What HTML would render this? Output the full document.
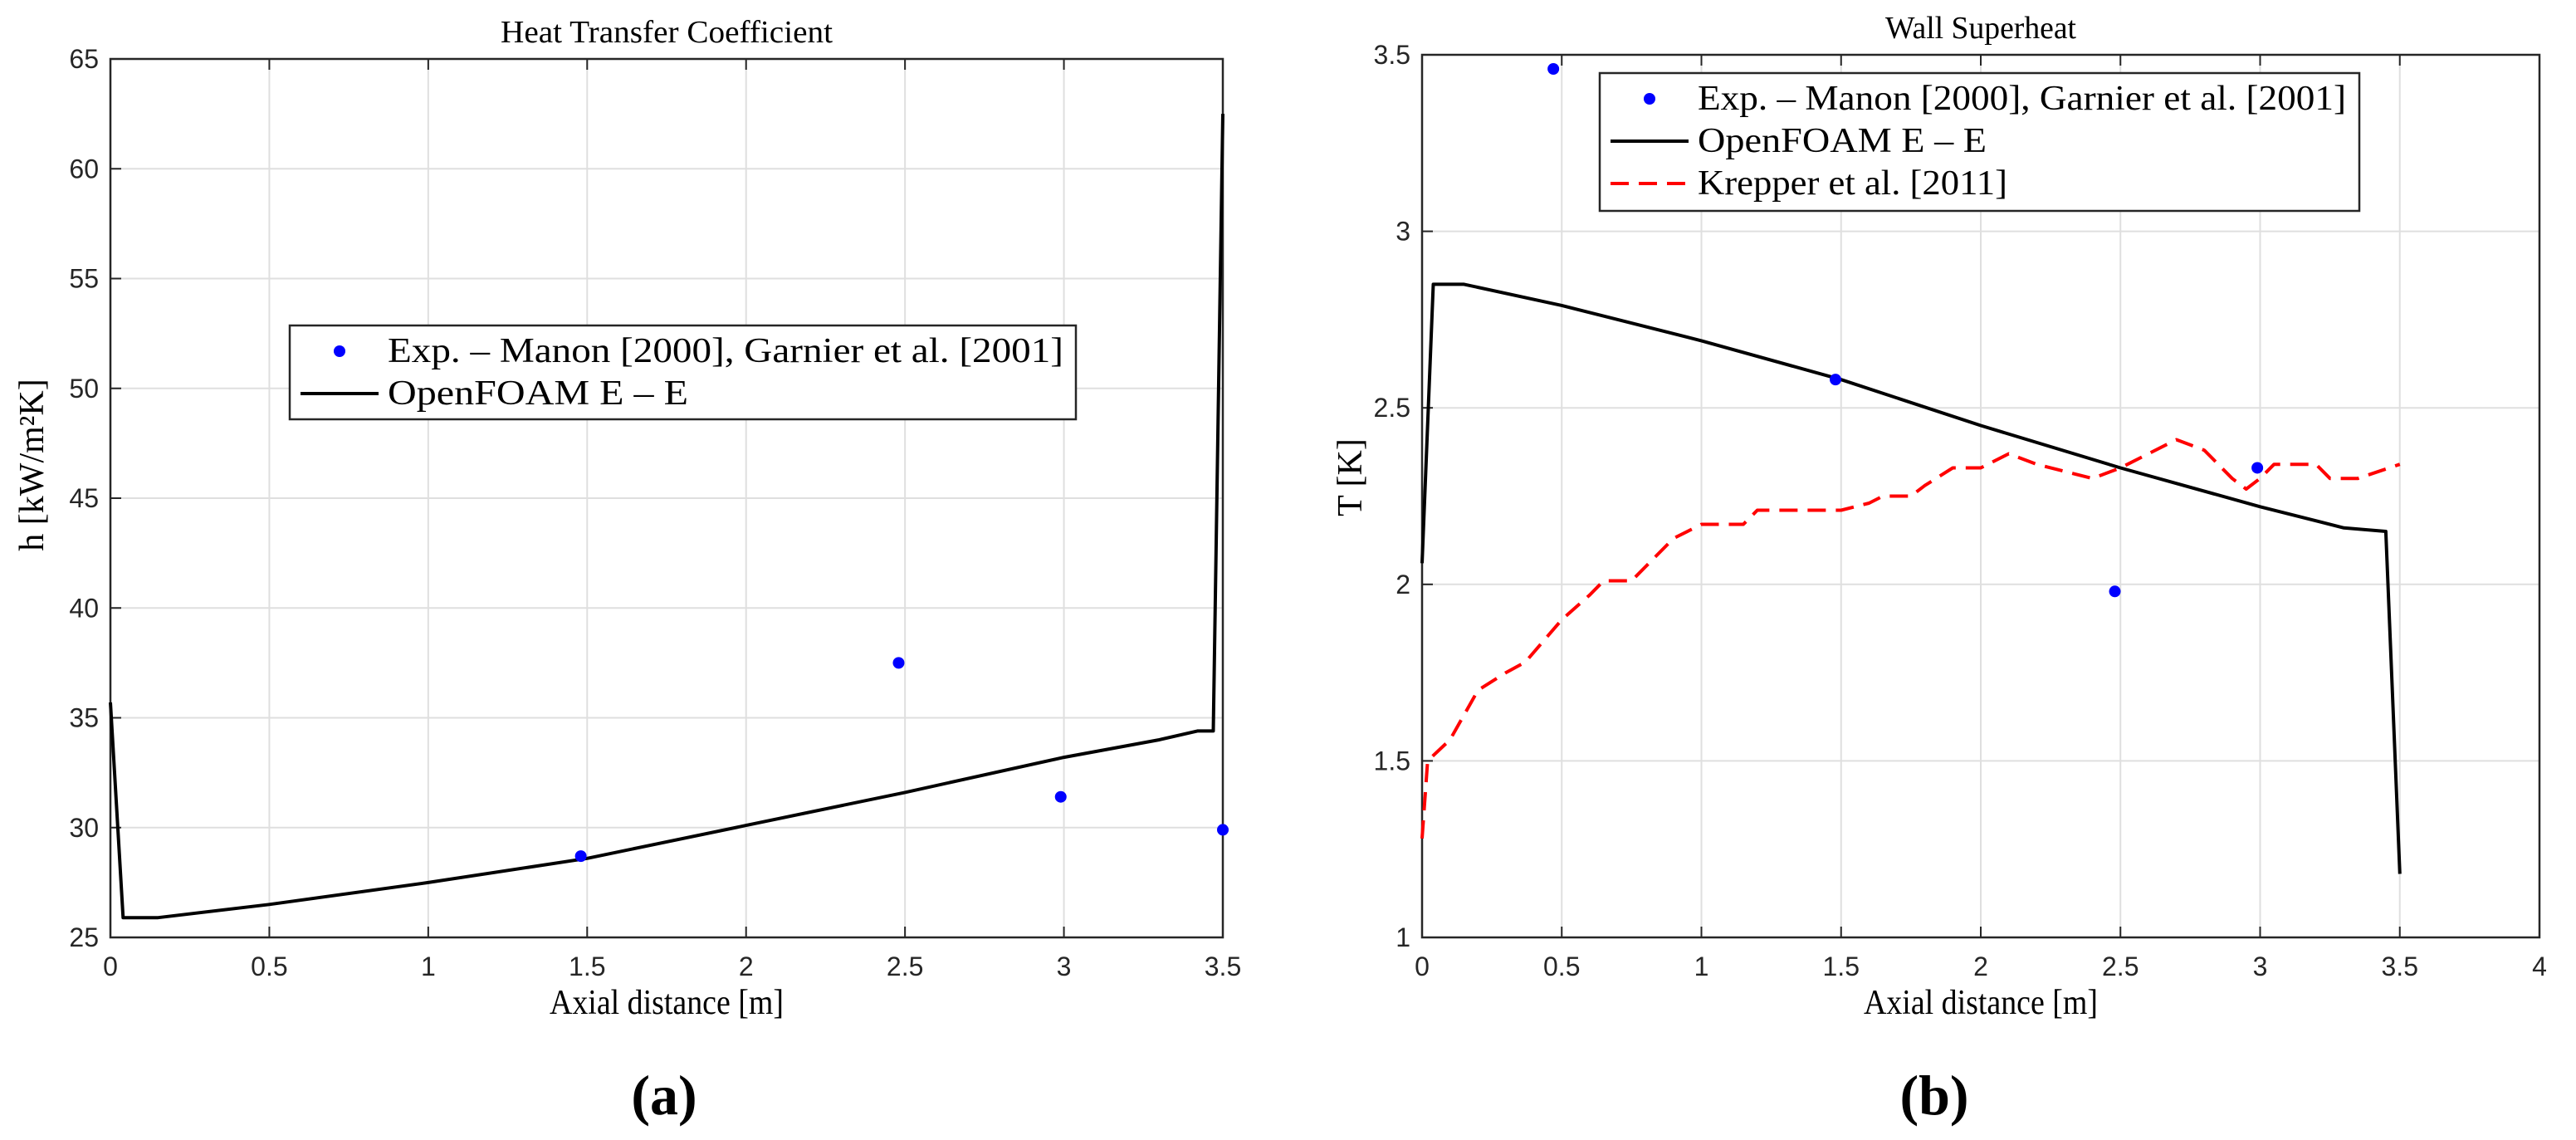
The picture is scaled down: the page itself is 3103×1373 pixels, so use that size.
<!DOCTYPE html>
<html><head><meta charset="utf-8"><style>
html,body{margin:0;padding:0;background:#fff;}
svg{display:block;}
.tick{font-family:"Liberation Sans",sans-serif;font-size:32px;fill:#262626;}
.ser{font-family:"Liberation Serif",serif;fill:#000;}
</style></head><body>
<svg id="fig" width="3103" height="1373" viewBox="0 0 3103 1373" xmlns="http://www.w3.org/2000/svg">
<g id="pa"></g>
<g id="pb"></g>
<text x="800" y="1342" text-anchor="middle" class="ser" font-size="68" font-weight="bold">(a)</text>
<text x="2330" y="1342" text-anchor="middle" class="ser" font-size="68" font-weight="bold">(b)</text>
</svg>
<script>
// Panel (a) data
const aXTicks=[0,0.5,1,1.5,2,2.5,3,3.5];
const aYTicks=[25,30,35,40,45,50,55,60,65];
const aLineX=[0,0.04,0.15,0.5,1.0,1.5,2.0,2.5,3.0,3.3,3.42,3.47,3.5];
const aLineY=[35.7,25.9,25.9,26.5,27.5,28.6,30.1,31.6,33.2,34.0,34.4,34.4,62.5];
const aExpX=[1.48,2.48,2.99,3.5];
const aExpY=[28.7,37.5,31.4,29.9];
// Panel (b) data
const bXTicks=[0,0.5,1,1.5,2,2.5,3,3.5,4];
const bYTicks=[1,1.5,2,2.5,3,3.5];
const bLineX=[0,0.04,0.15,0.5,1.0,1.5,2.0,2.5,3.0,3.3,3.45,3.5];
const bLineY=[2.06,2.85,2.85,2.79,2.69,2.58,2.45,2.33,2.22,2.16,2.15,1.18];
const bKrepX=[0,0.02,0.1,0.2,0.3,0.37,0.5,0.6,0.65,0.75,0.8,0.9,1.0,1.15,1.2,1.5,1.6,1.65,1.75,1.8,1.9,2.0,2.1,2.2,2.3,2.4,2.5,2.6,2.7,2.8,2.9,2.95,3.0,3.05,3.2,3.25,3.35,3.5];
const bKrepY=[1.28,1.5,1.56,1.7,1.75,1.78,1.9,1.97,2.01,2.01,2.05,2.13,2.17,2.17,2.21,2.21,2.23,2.25,2.25,2.28,2.33,2.33,2.37,2.34,2.32,2.3,2.33,2.37,2.41,2.38,2.3,2.27,2.3,2.34,2.34,2.3,2.3,2.34];
const bExpX=[0.47,1.48,2.48,2.99];
const bExpY=[3.46,2.58,1.98,2.33];

const NS="http://www.w3.org/2000/svg";
function mk(parent,tag,attrs,txt){const e=document.createElementNS(NS,tag);for(const k in attrs)e.setAttribute(k,attrs[k]);if(txt!==undefined)e.textContent=txt;parent.appendChild(e);return e;}

function panel(g,o){
  const sx=v=>o.L+(v-o.x0)/(o.x1-o.x0)*(o.R-o.L);
  const sy=v=>o.B-(v-o.y0)/(o.y1-o.y0)*(o.B-o.T);
  o.xt.forEach(v=>{
    const l=mk(g,'line',{x1:sx(v),x2:sx(v),y1:o.T,y2:o.B,stroke:'#dfdfdf','stroke-width':2});
    
    
    const tk=mk(g,'line',{x1:sx(v),x2:sx(v),y1:o.B,y2:o.B-13,stroke:'#262626','stroke-width':2});
    
    
    const tk2=mk(g,'line',{x1:sx(v),x2:sx(v),y1:o.T,y2:o.T+13,stroke:'#262626','stroke-width':2});
    
    
    const t=mk(g,'text',{x:sx(v),y:o.B+46,'text-anchor':'middle',class:'tick'},String(v));
    
    
  });
  o.yt.forEach(v=>{
    const l=mk(g,'line',{x1:o.L,x2:o.R,y1:sy(v),y2:sy(v),stroke:'#dfdfdf','stroke-width':2});
    
    
    const tk=mk(g,'line',{x1:o.L,x2:o.L+13,y1:sy(v),y2:sy(v),stroke:'#262626','stroke-width':2});
    
    
    const t=mk(g,'text',{x:o.L-14,y:sy(v)+11,'text-anchor':'end',class:'tick'},String(v));
    
    
  });
  const box=mk(g,'rect',{x:o.L,y:o.T,width:o.R-o.L,height:o.B-o.T,fill:'none',stroke:'#262626','stroke-width':2.5});
  
  
  o.series.forEach(s=>{
    const d=s.x.map((v,i)=>(i?'L':'M')+sx(v).toFixed(1)+' '+sy(s.y[i]).toFixed(1)).join(' ');
    const p=mk(g,'path',{d:d,fill:'none',stroke:s.color,'stroke-width':4,'stroke-dasharray':s.dash||'none','stroke-linejoin':'round'});
    
    
  });
  o.pts.x.forEach((v,i)=>{
    const c=mk(g,'circle',{cx:sx(v),cy:sy(o.pts.y[i]),r:7,fill:'#0000ff'});
    
    
  });
  const tt=mk(g,'text',{x:(o.L+o.R)/2,y:o.T-20,'text-anchor':'middle',class:'ser','font-size':38,textLength:o.tw,lengthAdjust:'spacingAndGlyphs'},o.title);
  
  
  const xl=mk(g,'text',{x:(o.L+o.R)/2,y:o.B+92,'text-anchor':'middle',class:'ser','font-size':42,textLength:282,lengthAdjust:'spacingAndGlyphs'},'Axial distance [m]');
  
  
  const yl=mk(g,'text',{x:0,y:0,'text-anchor':'middle',class:'ser','font-size':42,transform:'translate('+o.ylx+','+o.yly+') rotate(-90)'},o.ylabel);
  
  
  const lg=mk(g,'g',{});
  
  
  const lb=mk(lg,'rect',{x:o.lg.x,y:o.lg.y,width:o.lg.w,height:o.lg.h,fill:'#fff',stroke:'#262626','stroke-width':2.5});
  
  
  o.lg.items.forEach((it,i)=>{
    const cy=o.lg.y+31+i*51;
    if(it.t==='pt'){const c=mk(lg,'circle',{cx:o.lg.x+60,cy:cy,r:7,fill:'#0000ff'});}
    else{const l=mk(lg,'line',{x1:o.lg.x+13,x2:o.lg.x+107,y1:cy,y2:cy,stroke:it.c,'stroke-width':4,'stroke-dasharray':it.dash||'none'});}
    const attrs={x:o.lg.x+118,y:cy+13,class:'ser','font-size':42};
    if(it.w){attrs.textLength=it.w;attrs.lengthAdjust='spacingAndGlyphs';}
    const t=mk(lg,'text',attrs,it.label);
    
    
  });
}

panel(document.getElementById('pa'),{L:133,R:1473,T:71,B:1129,x0:0,x1:3.5,y0:25,y1:65,xt:aXTicks,yt:aYTicks,
  title:'Heat Transfer Coefficient',tw:400,ylabel:'h [kW/m²K]',ylx:52,yly:560,
  series:[{x:aLineX,y:aLineY,color:'#000',name:'openfoam-line'}],pts:{x:aExpX,y:aExpY},
  lg:{x:349,y:392,w:947,h:113,items:[{t:'pt',label:'Exp. – Manon [2000],  Garnier et al. [2001]',w:814},{t:'ln',c:'#000',label:'OpenFOAM E – E',w:362}]}});

panel(document.getElementById('pb'),{L:1713,R:3059,T:66,B:1129,x0:0,x1:4,y0:1,y1:3.5,xt:bXTicks,yt:bYTicks,
  title:'Wall Superheat',tw:230,ylabel:'T [K]',ylx:1640,yly:575,
  series:[{x:bLineX,y:bLineY,color:'#000',name:'openfoam-line'},{x:bKrepX,y:bKrepY,color:'#ff0000',dash:'22,12',name:'krepper-line'}],pts:{x:bExpX,y:bExpY},
  lg:{x:1927,y:88,w:915,h:166,items:[{t:'pt',label:'Exp. – Manon [2000],  Garnier et al. [2001]',w:781},{t:'ln',c:'#000',label:'OpenFOAM E – E',w:348},{t:'ln',c:'#ff0000',dash:'22,12',label:'Krepper et al. [2011]',w:373}]}});
</script>
</body></html>
